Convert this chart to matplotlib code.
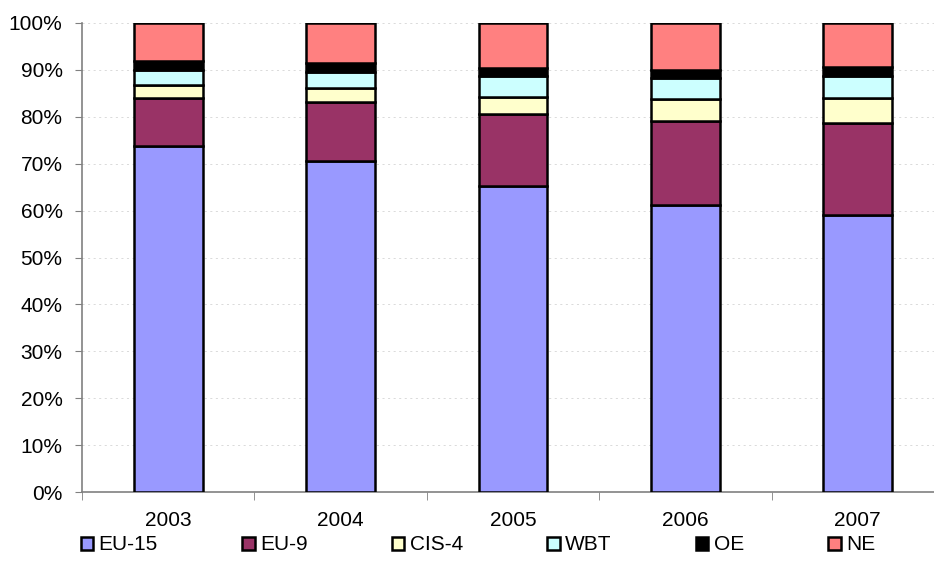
import matplotlib.pyplot as plt
import numpy as np
from matplotlib.patches import Patch

plt.rcParams['font.family'] = ['Liberation Sans', 'DejaVu Sans']

years = ['2003', '2004', '2005', '2006', '2007']
groups = ['EU-15', 'EU-9', 'CIS-4', 'WBT', 'OE', 'NE']

# shares in percent, per year
eu15 = [73.7, 70.6, 65.3, 61.2, 59.1]
eu9 = [10.4, 12.5, 15.3, 17.8, 19.6]
cis4 = [2.7, 3.0, 3.7, 4.7, 5.4]
wbt = [3.2, 3.5, 4.3, 4.5, 4.7]
oe = [1.8, 1.9, 1.9, 1.8, 1.9]
ne = [8.2, 8.5, 9.5, 10.0, 9.3]

colors = ['#9999FF', '#993366', '#FFFFCC', '#CCFFFF', '#000000', '#FF8080']
series = [eu15, eu9, cis4, wbt, oe, ne]

fig = plt.figure(figsize=(9.34, 5.65), dpi=100)
ax = fig.add_axes([82/934, 1-492/565, 862/934, 469/565])

x = np.arange(len(years))
bottom = np.zeros(len(years))
for vals, c in zip(series, colors):
    vals = np.array(vals)
    ax.bar(x, vals, 0.4, bottom=bottom, color=c, edgecolor='black', linewidth=1.8, zorder=3)
    bottom += vals

ax.set_xlim(-0.5, 4.5)
ax.set_ylim(0, 100)
ax.set_yticks(np.arange(0, 101, 10))
ax.set_yticklabels([f'{v}%' for v in range(0, 101, 10)], fontsize=15)
ax.yaxis.grid(True, linestyle=(0, (3, 5)), color='black', linewidth=0.5, alpha=0.2, zorder=0)

ax.set_xticks(x)
ax.set_xticklabels(years, fontsize=15)
ax.set_xticks(np.arange(-0.5, 4.6, 1), minor=True)
ax.tick_params(axis='x', which='major', length=0, pad=14)
ax.tick_params(axis='x', which='minor', length=6, color='#808080')
ax.tick_params(axis='y', length=5, color='#808080', pad=9)

for s in ['top', 'right']:
    ax.spines[s].set_visible(False)
for s in ['left', 'bottom']:
    ax.spines[s].set_color('#808080')
    ax.spines[s].set_linewidth(1.2)

handles = [Patch(facecolor=c, edgecolor='black', linewidth=1.8) for c in colors]
fig.legend(handles, groups, loc='center', bbox_to_anchor=(478/934, 1-545/565), ncol=6,
           frameon=False, fontsize=15, handlelength=0.6, handleheight=0.6,
           handletextpad=0.25, columnspacing=4.05)

fig.savefig('out.png', dpi=100)
